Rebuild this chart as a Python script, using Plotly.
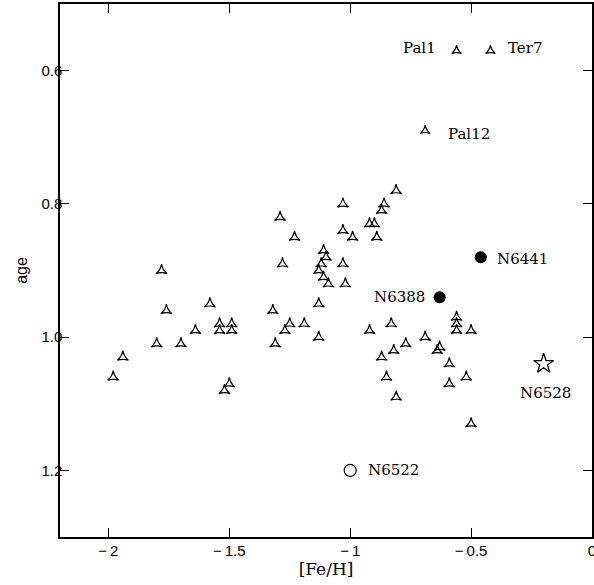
import plotly.graph_objects as go

# Ordinary clusters (tri-star markers)
feh = [-1.98, -1.94, -1.80, -1.78, -1.76, -1.70, -1.64, -1.58, -1.54, -1.54, -1.49, -1.49, -1.50, -1.52,
       -1.32, -1.31, -1.29, -1.28, -1.27, -1.25, -1.23, -1.19, -1.13, -1.13,
       -1.11, -1.10, -1.12, -1.13, -1.11, -1.09, -1.03, -1.02,
       -1.03, -1.03, -0.99, -0.92, -0.90, -0.89, -0.86, -0.87, -0.81,
       -0.92, -0.83, -0.77, -0.82, -0.87, -0.85, -0.81, -0.69, -0.64, -0.63,
       -0.59, -0.59, -0.52, -0.56, -0.56, -0.56, -0.50, -0.50]
age = [1.06, 1.03, 1.01, 0.90, 0.96, 1.01, 0.99, 0.95, 0.98, 0.99, 0.98, 0.99, 1.07, 1.08,
       0.96, 1.01, 0.82, 0.89, 0.99, 0.98, 0.85, 0.98, 0.95, 1.00,
       0.87, 0.88, 0.89, 0.90, 0.91, 0.92, 0.89, 0.92,
       0.80, 0.84, 0.85, 0.83, 0.83, 0.85, 0.80, 0.81, 0.78,
       0.99, 0.98, 1.01, 1.02, 1.03, 1.06, 1.09, 1.00, 1.02, 1.015,
       1.04, 1.07, 1.06, 0.97, 0.98, 0.99, 0.99, 1.13]

# Labelled young clusters
young_names = ["Pal1", "Ter7", "Pal12"]
young_feh = [-0.56, -0.42, -0.69]
young_age = [0.57, 0.57, 0.69]

# Special clusters
filled_names = ["N6441", "N6388"]
filled_feh = [-0.46, -0.63]
filled_age = [0.88, 0.94]

open_names = ["N6522"]
open_feh = [-1.00]
open_age = [1.20]

star_names = ["N6528"]
star_feh = [-0.20]
star_age = [1.04]

x_ticks = [-2, -1.5, -1, -0.5, 0]
x_ticktext = ["\u2212\u20092", "\u2212\u20091.5", "\u2212\u20091", "\u2212\u20090.5", "0"]
y_ticks = [0.6, 0.8, 1.0, 1.2]

fig = go.Figure()
tri = dict(symbol="star-triangle-up-open", size=8, color="black", line=dict(color="black", width=1.2))
fig.add_trace(go.Scatter(x=feh, y=age, mode="markers", marker=tri, showlegend=False))
fig.add_trace(go.Scatter(x=young_feh, y=young_age, mode="markers",
                         marker=dict(tri, size=7), showlegend=False))
fig.add_trace(go.Scatter(x=filled_feh, y=filled_age, mode="markers",
                         marker=dict(symbol="circle", size=12, color="black"), showlegend=False))
fig.add_trace(go.Scatter(x=open_feh, y=open_age, mode="markers",
                         marker=dict(symbol="circle-open", size=12, color="black", line=dict(width=1.2)),
                         showlegend=False))
fig.add_trace(go.Scatter(x=star_feh, y=star_age, mode="markers",
                         marker=dict(symbol="star-open", size=15, color="black", line=dict(width=1.2)),
                         showlegend=False))

lab_font = dict(family="DejaVu Serif", size=15, color="black")

def label(x, y, text, anchor, dx, dy):
    fig.add_annotation(x=x, y=y, xref="x", yref="y", text=text, showarrow=False,
                       xanchor=anchor, yanchor="middle", xshift=dx, yshift=dy,
                       font=lab_font, borderpad=0)

label(young_feh[0], young_age[0], young_names[0], "right", -20, 3)
label(young_feh[1], young_age[1], young_names[1], "left", 17, 3)
label(young_feh[2], young_age[2], young_names[2], "left", 22, -3)
label(filled_feh[0], filled_age[0], filled_names[0], "left", 15, -2)
label(filled_feh[1], filled_age[1], filled_names[1], "right", -14, 0)
label(open_feh[0], open_age[0], open_names[0], "left", 17, 0)
label(star_feh[0], star_age[0], star_names[0], "center", 2, -29)

axis_common = dict(showline=True, linecolor="black", linewidth=1.5, mirror="ticks",
                   ticks="inside", ticklen=9, tickwidth=1.2, tickcolor="black",
                   showgrid=False, zeroline=False, ticklabeloverflow="allow",
                   tickfont=dict(family="Liberation Sans", size=15, color="black"))

fig.update_layout(
    width=594, height=585,
    margin=dict(l=60, r=2, t=4, b=48),
    plot_bgcolor="white", paper_bgcolor="white",
    xaxis=dict(axis_common, range=[-2.2, 0], tickvals=x_ticks, ticktext=x_ticktext,
               ticklabelstandoff=-1, automargin=False,
               title=dict(text="[Fe/H]", font=dict(family="DejaVu Serif", size=17, color="black"),
                          standoff=5)),
    yaxis=dict(axis_common, range=[1.3, 0.5], tickvals=y_ticks, tickformat=".1f",
               ticklabelstandoff=-7, automargin=False,
               title=dict(text="age", font=dict(family="Liberation Sans", size=16, color="black"),
                          standoff=10)),
)

fig.write_html("out.html", config={"displayModeBar": False},
               post_script="document.body.style.margin='0';document.body.style.padding='0';")
